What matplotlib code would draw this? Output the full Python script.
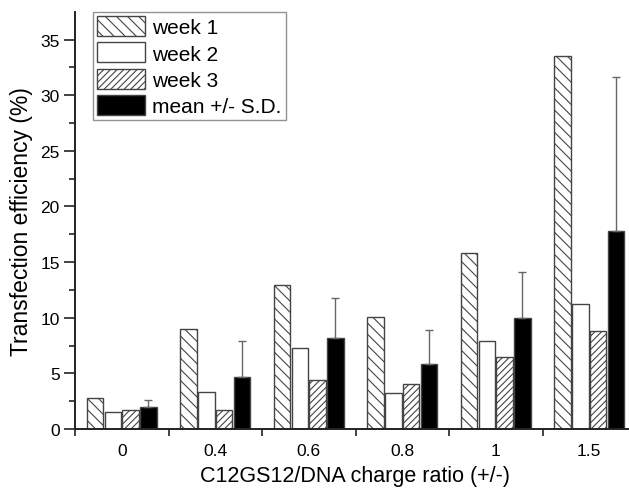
import matplotlib
matplotlib.use("Agg")
import matplotlib.pyplot as plt
import numpy as np

ratios = ["0", "0.4", "0.6", "0.8", "1", "1.5"]
week1 = [2.8, 9.0, 12.9, 10.1, 15.8, 33.5]
week2 = [1.5, 3.3, 7.3, 3.2, 7.9, 11.2]
week3 = [1.7, 1.7, 4.4, 4.0, 6.5, 8.8]
mean_sd = [2.0, 4.7, 8.2, 5.8, 10.0, 17.8]
sd = [0.6, 3.2, 3.6, 3.1, 4.1, 13.8]

plt.rcParams["font.family"] = ["Liberation Sans", "DejaVu Sans"]
plt.rcParams["hatch.linewidth"] = 0.8
plt.rcParams["hatch.color"] = "#333333"

W, H = 629, 489
fig = plt.figure(figsize=(W / 100, H / 100), dpi=100)
left, right, top, bottom = 75, 636, 12.7, 430
ax = fig.add_axes([left / W, 1 - bottom / H, (right - left) / W, (bottom - top) / H])

x = np.arange(len(ratios))
step = 0.19
bw = 0.175
edge = "#444444"
ax.bar(x - 1.5 * step, week1, bw, facecolor="white", edgecolor=edge, hatch="\\\\\\", lw=1.0, label="week 1")
ax.bar(x - 0.5 * step, week2, bw, facecolor="white", edgecolor=edge, lw=1.0, label="week 2")
ax.bar(x + 0.5 * step, week3, bw, facecolor="white", edgecolor=edge, hatch="/////", lw=1.0, label="week 3")
ax.bar(x + 1.5 * step, mean_sd, bw, facecolor="black", edgecolor=edge, lw=1.0, label="mean +/- S.D.")
ax.errorbar(x + 1.5 * step, mean_sd, yerr=[np.zeros(len(sd)), sd], fmt="none",
            ecolor="#666666", elinewidth=1.0, capsize=3, capthick=1.0)

ax.set_xlim(-0.5, 5.5)
ax.set_ylim(0, 37.5)
ax.set_xticks(x)
ax.set_xticklabels(ratios)
ax.set_xticks(np.arange(-0.5, 6, 1), minor=True)
ax.tick_params(axis="x", which="major", length=0, pad=10, labelsize=12.5)
ax.tick_params(axis="x", which="minor", length=5, width=1.2, direction="out", color="#222222")
ax.set_yticks(np.arange(0, 36, 5))
ax.set_yticks(np.arange(0, 37.5, 2.5), minor=True)
ax.tick_params(axis="y", which="major", length=8, width=1.2, labelsize=12.5, pad=3, color="#222222")
ax.tick_params(axis="y", which="minor", length=4.5, width=1.2, color="#222222")

for s in ["top", "right"]:
    ax.spines[s].set_visible(False)
for s in ["left", "bottom"]:
    ax.spines[s].set_linewidth(1.4)
    ax.spines[s].set_color("#222222")

ax.set_ylabel("Transfection efficiency (%)", fontsize=16.5, labelpad=5)
ax.set_xlabel("C12GS12/DNA charge ratio (+/-)", fontsize=15.5, labelpad=5)

leg = ax.legend(loc="upper left", bbox_to_anchor=(93 / W, 1 - 13 / H), bbox_transform=fig.transFigure,
                fontsize=15, frameon=True, fancybox=False, borderaxespad=0, borderpad=0.2,
                handlelength=2.3, handleheight=1.1, handletextpad=0.35, labelspacing=0.25)
leg.get_frame().set_edgecolor("#777777")
leg.get_frame().set_linewidth(1.0)

fig.savefig("out.png", dpi=100)
